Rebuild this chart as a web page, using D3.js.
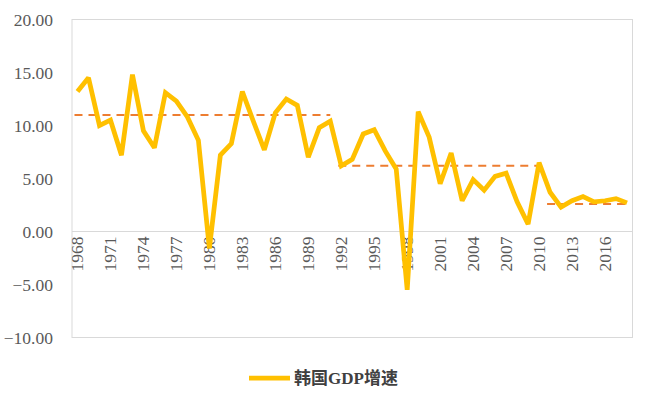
<!DOCTYPE html>
<html><head><meta charset="utf-8">
<script src="https://cdn.jsdelivr.net/npm/d3@7"></script>
<style>body{margin:0;background:#fff}svg{display:block}</style>
</head><body>
<svg id="c" width="657" height="405"></svg>
<script>
const years = d3.range(1968, 2019);
const growth = [13.2,14.5,10.0,10.5,7.2,14.8,9.5,7.9,13.1,12.3,10.8,8.6,-1.6,7.2,8.3,13.2,10.4,7.7,11.2,12.5,11.9,7.0,9.8,10.4,6.2,6.8,9.2,9.6,7.6,5.9,-5.5,11.3,8.9,4.5,7.4,2.9,4.9,3.9,5.2,5.5,2.8,0.7,6.5,3.7,2.3,2.9,3.3,2.8,2.9,3.1,2.7];
const avgSegments = [
  {from:1968, to:1991, value:11.0},
  {from:1992, to:2010, value:6.2},
  {from:2011, to:2018, value:2.6}
];
const yTicks = [-10,-5,0,5,10,15,20];
const legendLabel = "韩国GDP增速";

const svg = d3.select("#c");
const L=72, R=632.5, T=19.5, B=337.5;
const x = d3.scaleBand().domain(years).range([L,R]).padding(0);
const y = d3.scaleLinear().domain([-10,20]).range([B,T]);
const cx = d => x(d)+x.bandwidth()/2;
const font = "Liberation Serif";

svg.append("rect").attr("x",L).attr("y",T).attr("width",R-L).attr("height",B-T)
  .attr("fill","none").attr("stroke","#d9d9d9").attr("stroke-width",1);

const ya = svg.append("g").attr("transform",`translate(${L},0)`)
  .call(d3.axisLeft(y).tickValues(yTicks).tickFormat(d3.format(".2f")).tickSize(0).tickPadding(19));
ya.attr("font-family",font).attr("font-size",17.5);
ya.select(".domain").remove();
ya.selectAll("text").attr("fill","#595959");

svg.append("line").attr("x1",L).attr("x2",R).attr("y1",y(0)).attr("y2",y(0))
  .attr("stroke","#d9d9d9").attr("stroke-width",1);

const xa = svg.append("g").attr("transform",`translate(0,${y(0)})`)
  .call(d3.axisBottom(x).tickValues(years.filter(d=>(d-1968)%3===0)).tickSize(0));
xa.attr("font-family",font).attr("font-size",17.5);
xa.select(".domain").remove();
xa.selectAll("text").attr("fill","#595959")
  .attr("text-anchor","end").attr("y",0).attr("x",0)
  .attr("transform","translate(0,5) rotate(-90)").attr("dy","0.33em");

svg.selectAll(".avg").data(avgSegments).enter().append("line")
  .attr("x1",d=>cx(d.from)-3).attr("x2",d=>cx(d.to))
  .attr("y1",d=>y(d.value)).attr("y2",d=>y(d.value))
  .attr("stroke","#ED7D31").attr("stroke-width",2).attr("stroke-dasharray","8,6");

svg.append("path").datum(years.map((yr,i)=>[yr,growth[i]]))
  .attr("fill","none").attr("stroke","#FFC000").attr("stroke-width",4.75)
  .attr("stroke-linejoin","miter").attr("stroke-miterlimit",2)
  .attr("d",d3.line().x(d=>cx(d[0])).y(d=>y(d[1])));

svg.append("line").attr("x1",249).attr("x2",290).attr("y1",378).attr("y2",378)
  .attr("stroke","#FFC000").attr("stroke-width",4.75);
svg.append("text").attr("x",294).attr("y",378).attr("dy","0.35em")
  .attr("font-family","Liberation Serif, Noto Sans CJK SC, serif").attr("font-size",17)
  .attr("font-weight","bold").attr("fill","#404040").text(legendLabel);
</script>
</body></html>
